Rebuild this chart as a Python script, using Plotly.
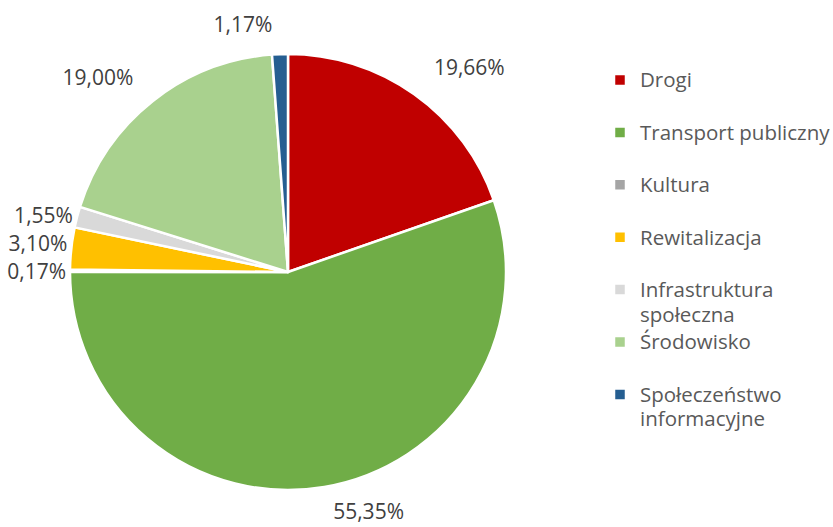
import plotly.graph_objects as go

categories = ["Drogi", "Transport publiczny", "Kultura", "Rewitalizacja",
              "Infrastruktura<br>społeczna", "Środowisko", "Społeczeństwo<br>informacyjne"]
values = [19.66, 55.35, 0.17, 3.10, 1.55, 19.00, 1.17]
colors = ["#C00000", "#70AD47", "#A5A5A5", "#FFC000", "#D9D9D9", "#A9D18E", "#255E91"]

# label placement: big slices get labels on an outer ring (pushed out per slice),
# the small slices on the left get labels close to the rim
far_label = [True, True, False, False, False, True, True]
far_offset = [0.17, 0.117, 0.0, 0.0, 0.0, 0.159, 0.143]

FONT = "Open Sans"
BIG = "<span style='font-size:20.5px'>{}</span>"


def legend_label(c):
    lines = c.split("<br>")
    if len(lines) == 1:
        lines.append(" ")
    return "<br>".join(BIG.format(l) for l in lines)


legend_labels = [legend_label(c) for c in categories]
pct_text = [f"{v:.2f}%".replace(".", ",") for v in values]

W, H = 833, 527
cx, cy, r = 288, 272, 218      # pie centre (px from left / top) and radius
r_far = 205                    # base radius of the outer label ring
r_near = 215                   # radius of the near label ring


def box(half):
    return dict(x=[(cx - half) / W, (cx + half) / W],
                y=[(H - cy - half) / H, (H - cy + half) / H])


fig = go.Figure()
fig.add_trace(go.Pie(
    labels=legend_labels,
    values=values,
    textinfo="none",
    sort=False,
    direction="clockwise",
    rotation=0,
    marker=dict(colors=colors, line=dict(color="white", width=2.5)),
    domain=box(r),
    hoverinfo="skip",
))

clear = dict(colors=["rgba(0,0,0,0)"] * len(values), line=dict(width=0))

# far labels
fig.add_trace(go.Pie(
    labels=legend_labels,
    values=values,
    text=pct_text,
    textinfo="text",
    textposition=["outside" if f else "none" for f in far_label],
    sort=False,
    direction="clockwise",
    rotation=0,
    pull=far_offset,
    showlegend=False,
    marker=clear,
    outsidetextfont=dict(family=FONT, size=21, color="#404040"),
    domain=box(r_far * (1 + max(far_offset))),
    hoverinfo="text",
))

# near labels
fig.add_trace(go.Pie(
    labels=legend_labels,
    values=values,
    text=pct_text,
    textinfo="text",
    textposition=["none" if f else "outside" for f in far_label],
    sort=False,
    direction="clockwise",
    rotation=0,
    showlegend=False,
    marker=clear,
    outsidetextfont=dict(family=FONT, size=21, color="#404040"),
    domain=box(r_near),
    hoverinfo="skip",
))

fig.update_layout(
    width=W, height=H,
    margin=dict(l=0, r=0, t=0, b=0, autoexpand=False),
    paper_bgcolor="white",
    plot_bgcolor="white",
    showlegend=True,
    legend=dict(
        x=600 / W, y=0.884, xanchor="left", yanchor="top",
        font=dict(family=FONT, size=19, color="#595959"),
        valign="top",
        bgcolor="rgba(0,0,0,0)",
    ),
)

post = (
    "document.body.style.margin='0';"
    "document.body.style.overflow='hidden';"
    "var s=document.createElement('style');"
    "s.textContent='path.textline{display:none}';"
    "document.head.appendChild(s);"
)

fig.write_html("out.html", post_script=post, config={"displayModeBar": False})
